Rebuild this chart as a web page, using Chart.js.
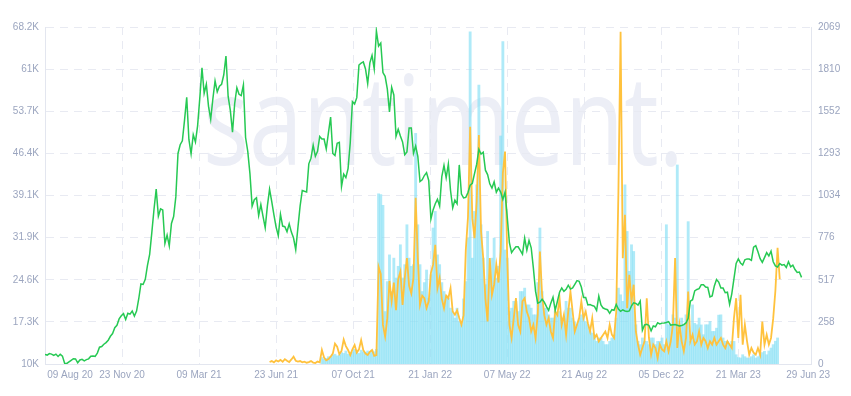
<!DOCTYPE html>
<html>
<head>
<meta charset="utf-8">
<script src="https://cdn.jsdelivr.net/npm/chart.js@4.4.0/dist/chart.umd.min.js"></script>
<style>
  html, body { margin: 0; padding: 0; background: #fff; }
  #wrap { width: 851px; height: 396px; }
</style>
</head>
<body>
<div id="wrap"><canvas id="chart" width="851" height="396"></canvas></div>
<script>
// series sampled every 3 days
var STEP = 3;
var FIRST_DAY = '2020-08-09';

// green line, price in thousands (left axis)
var priceStart = '2020-08-09';
var priceK = [
  11.68, 11.58, 11.85, 11.75, 11.52, 11.75, 11.33, 11.71, 11.40, 10.17,
  10.13, 10.40, 10.68, 10.95, 10.92, 10.25, 10.73, 10.84, 10.58, 10.79,
  10.93, 11.38, 11.43, 11.36, 11.92, 12.94, 13.06, 13.46, 13.74, 14.15,
  14.83, 15.30, 16.32, 16.72, 17.82, 18.37, 18.73, 17.72, 18.80, 18.65,
  19.19, 18.32, 19.17, 21.31, 23.86, 23.78, 24.66, 27.08, 28.99, 32.78,
  36.77, 40.25, 35.57, 36.82, 36.63, 30.83, 32.29, 30.43, 34.32, 35.51,
  38.90, 46.40, 47.91, 48.58, 52.15, 56.10, 48.82, 46.34, 49.63, 48.38,
  51.21, 55.96, 61.20, 56.80, 58.35, 54.53, 52.31, 55.85, 58.92, 57.06,
  58.02, 58.35, 59.99, 63.22, 56.25, 53.83, 50.09, 55.03, 57.75, 56.62,
  56.40, 58.23, 49.15, 46.76, 42.91, 37.30, 38.40, 38.74, 35.68, 37.57,
  35.52, 33.56, 37.34, 40.22, 38.10, 35.79, 33.68, 32.19, 35.91, 33.86,
  33.75, 32.88, 34.24, 32.82, 31.80, 29.79, 33.60, 37.30, 40.01, 39.87,
  39.75, 44.61, 45.59, 47.82, 45.90, 46.77, 49.32, 48.90, 48.90, 47.17,
  49.94, 52.70, 46.40, 46.06, 48.15, 48.31, 40.69, 42.84, 42.23, 43.79,
  48.23, 55.36, 54.94, 56.04, 61.67, 61.99, 62.21, 61.00, 58.48, 62.04,
  63.33, 61.00, 67.55, 64.95, 65.47, 60.37, 59.72, 57.54, 53.57, 57.81,
  56.51, 49.37, 50.58, 49.40, 48.38, 46.20, 46.68, 50.81, 50.81, 46.44,
  47.69, 45.90, 41.56, 41.86, 42.59, 43.10, 41.74, 35.07, 36.65, 37.71,
  38.48, 37.30, 42.41, 44.35, 42.20, 44.58, 40.00, 37.02, 38.33, 37.71,
  44.42, 39.40, 38.73, 38.81, 39.67, 40.92, 41.25, 42.91, 44.54, 47.12,
  46.31, 46.62, 43.51, 42.75, 41.15, 40.42, 41.50, 39.71, 40.43, 39.74,
  38.47, 39.70, 35.47, 30.98, 29.28, 29.83, 30.30, 30.29, 29.65, 29.01,
  31.79, 29.70, 31.37, 30.11, 26.59, 22.58, 20.55, 20.71, 21.23, 20.73,
  19.94, 19.30, 20.55, 21.59, 19.33, 20.84, 22.43, 23.17, 22.58, 22.95,
  23.64, 22.98, 23.18, 23.81, 24.44, 24.31, 23.34, 21.53, 21.53, 20.24,
  20.30, 20.13, 19.99, 19.29, 21.77, 20.23, 19.70, 19.54, 19.41, 18.80,
  19.42, 19.31, 20.34, 19.53, 19.13, 19.38, 19.19, 19.12, 19.20, 20.09,
  20.60, 20.50, 20.20, 20.90, 15.88, 16.79, 16.90, 16.70, 15.78, 16.60,
  16.46, 17.17, 16.97, 17.10, 17.13, 17.21, 17.36, 16.76, 16.82, 16.84,
  16.72, 16.60, 16.68, 16.83, 17.13, 17.94, 20.88, 21.14, 22.67, 22.92,
  23.05, 23.74, 23.73, 23.33, 23.25, 21.63, 21.79, 23.52, 24.64, 24.19,
  23.16, 23.15, 22.35, 22.43, 20.36, 22.16, 24.77, 27.42, 28.18, 27.49,
  27.14, 28.03, 28.19, 28.17, 27.95, 30.22, 30.48, 29.43, 28.24, 27.59,
  28.42, 29.27, 28.69, 29.54, 27.70, 26.99, 26.80, 27.40, 27.12, 27.22,
  26.72, 27.70, 26.82, 27.12, 26.35, 25.85, 25.93, 25.00
];

// orange line (right axis)
var orangeStart = '2021-06-14';
var orangeVals = [
  12, 18, 10, 22, 15, 25, 14, 30, 20, 12,
  28, 45, 20, 15, 18, 10, 14, 8, 12, 18,
  9, 6, 15, 10, 86, 40, 22, 30, 45, 64,
  125, 106, 60, 80, 150, 110, 86, 55, 90, 117,
  70, 90, 147, 85, 64, 55, 75, 86, 50, 55,
  597, 553, 240, 168, 280, 510, 387, 500, 330, 520,
  567, 363, 528, 650, 480, 433, 528, 1021, 650, 363,
  420, 404, 343, 385, 560, 610, 732, 466, 528, 400,
  343, 420, 404, 466, 322, 302, 330, 282, 241, 300,
  700, 900, 1457, 894, 773, 1000, 1406, 814, 650, 400,
  261, 650, 425, 487, 610, 500, 691, 1173, 1304, 650,
  241, 160, 282, 404, 241, 200, 385, 404, 320, 282,
  200, 241, 160, 302, 691, 425, 300, 241, 282, 200,
  160, 322, 300, 404, 241, 302, 180, 322, 445, 322,
  200, 241, 282, 385, 282, 322, 250, 200, 282, 160,
  180, 139, 160, 180, 200, 160, 241, 180, 160, 322,
  1059, 2040, 650, 916, 343, 548, 385, 487, 200, 119,
  57, 100, 139, 404, 160, 57, 119, 98, 37, 119,
  90, 78, 139, 78, 139, 241, 650, 98, 241, 139,
  78, 160, 445, 139, 180, 119, 139, 200, 119, 160,
  140, 98, 139, 119, 160, 119, 140, 160, 119, 98,
  139, 119, 98, 282, 404, 160, 425, 119, 241, 139,
  57, 98, 70, 57, 98, 57, 261, 119, 180, 119,
  160, 280, 450, 713, 520
];

// light blue bars (right axis)
var barStart = '2021-08-25';
var barVals = [
  40, 30, 35, 45, 40, 55, 60, 50, 55, 70,
  65, 80, 60, 70, 75, 90, 70, 65, 85, 75,
  70, 80, 70, 85, 75, 90, 1045, 1040, 974, 322,
  506, 670, 445, 650, 528, 600, 732, 528, 610, 855,
  650, 600, 610, 1416, 855, 610, 445, 500, 577, 404,
  548, 835, 937, 670, 610, 500, 445, 420, 404, 343,
  320, 282, 343, 260, 241, 400, 506, 773, 2040, 650,
  937, 1100, 1713, 855, 650, 487, 814, 548, 650, 773,
  528, 600, 1400, 1979, 700, 650, 322, 343, 385, 385,
  322, 445, 445, 466, 363, 363, 343, 302, 302, 500,
  835, 445, 343, 343, 302, 282, 282, 322, 302, 322,
  282, 282, 385, 343, 343, 282, 260, 241, 282, 302,
  302, 260, 241, 200, 190, 180, 139, 160, 160, 139,
  119, 119, 139, 160, 180, 282, 466, 425, 385, 1100,
  814, 569, 732, 691, 241, 139, 119, 160, 139, 139,
  119, 160, 160, 119, 139, 139, 160, 119, 855, 241,
  241, 302, 282, 1222, 241, 282, 241, 302, 874, 139,
  363, 250, 241, 282, 240, 180, 241, 241, 261, 200,
  200, 220, 300, 302, 160, 139, 139, 119, 139, 139,
  57, 40, 37, 57, 45, 37, 37, 45, 57, 37,
  45, 57, 70, 78, 57, 80, 98, 119, 140, 160
];

var xTickDates = ['2020-08-09', '2020-11-23', '2021-03-09', '2021-06-23', '2021-10-07', '2022-01-21',
  '2022-05-07', '2022-08-21', '2022-12-05', '2023-03-21', '2023-06-29'];
var xTickLabels = ['09 Aug 20', '23 Nov 20', '09 Mar 21', '23 Jun 21', '07 Oct 21', '21 Jan 22',
  '07 May 22', '21 Aug 22', '05 Dec 22', '21 Mar 23', '29 Jun 23'];
var leftTicks = ['10K', '17.3K', '24.6K', '31.9K', '39.1K', '46.4K', '53.7K', '61K', '68.2K'];
var rightTicks = ['0', '258', '517', '776', '1034', '1293', '1552', '1810', '2069'];
var WATERMARK = 'santiment.';

var LEFT_MIN = 10.04, LEFT_MAX = 68.24;
var RIGHT_MIN = 0, RIGHT_MAX = 2069;

function dayOf(iso) {
  return Math.round((Date.parse(iso) - Date.parse(FIRST_DAY)) / 86400000);
}
function toPoints(vals, start) {
  var d0 = dayOf(start);
  return vals.map(function(v, i) { return {x: d0 + i * STEP, y: v}; });
}
function evenTicks(min, max, n) {
  var out = [];
  for (var k = 0; k < n; k++) out.push({value: min + (max - min) * k / (n - 1)});
  return out;
}

var tickColor = '#9ba5bf';
var gridColor = '#e8eaf2';
var font = {family: '"Liberation Sans", Arial, sans-serif', size: 10};

var watermark = {
  id: 'watermark',
  beforeDraw: function(chart) {
    var ctx = chart.ctx;
    ctx.save();
    ctx.font = '125px "Open Sans"';
    ctx.fillStyle = '#eceef6';
    ctx.textBaseline = 'alphabetic';
    var w = ctx.measureText(WATERMARK).width;
    ctx.translate(203, 165);
    ctx.scale(481 / w, 1);
    ctx.fillText(WATERMARK, 0, 0);
    ctx.restore();
  }
};

var ctx = document.getElementById('chart').getContext('2d');
new Chart(ctx, {
  data: {
    datasets: [{
      type: 'line',
      data: toPoints(priceK, priceStart),
      yAxisID: 'y',
      borderColor: '#26c953',
      borderWidth: 1.5,
      pointRadius: 0,
      tension: 0,
      order: 0
    }, {
      type: 'line',
      data: toPoints(orangeVals, orangeStart),
      yAxisID: 'y2',
      borderColor: '#ffc23d',
      borderWidth: 1.8,
      pointRadius: 0,
      tension: 0,
      order: 1
    }, {
      type: 'bar',
      data: toPoints(barVals, barStart),
      yAxisID: 'y2',
      backgroundColor: 'rgba(132,222,244,0.65)',
      barPercentage: 1,
      categoryPercentage: 1,
      order: 2
    }]
  },
  options: {
    responsive: false,
    animation: false,
    devicePixelRatio: 1,
    layout: {padding: {top: 27, left: 0, right: 0, bottom: 0}},
    plugins: {legend: {display: false}, tooltip: {enabled: false}},
    scales: {
      x: {
        type: 'linear',
        offset: false,
        min: 0,
        max: dayOf(xTickDates[xTickDates.length - 1]),
        afterBuildTicks: function(s) {
          s.ticks = xTickDates.map(function(d) { return {value: dayOf(d)}; });
        },
        afterFit: function(s) {
          s.height = 32;
          s.paddingLeft = 0;
          s.paddingRight = 0;
        },
        ticks: {
          autoSkip: false,
          maxRotation: 0,
          color: tickColor,
          font: font,
          padding: 5,
          callback: function(v, i) {
            if (i === 0) return '                  ' + xTickLabels[i];
            if (i === xTickLabels.length - 1) return xTickLabels[i] + '  ';
            return xTickLabels[i];
          }
        },
        grid: {
          offset: false,
          drawTicks: false,
          color: function(c) {
            return (c.index === 0 || c.index === xTickDates.length - 1) ? 'rgba(0,0,0,0)' : gridColor;
          }
        },
        border: {display: true, color: '#e3e6ef', dash: [8, 6]}
      },
      y: {
        position: 'left',
        min: LEFT_MIN,
        max: LEFT_MAX,
        afterBuildTicks: function(s) { s.ticks = evenTicks(LEFT_MIN, LEFT_MAX, leftTicks.length); },
        afterFit: function(s) { s.width = 45; s.paddingTop = 0; s.paddingBottom = 0; },
        ticks: {
          color: tickColor,
          font: font,
          padding: 6,
          callback: function(v, i) { return leftTicks[i]; }
        },
        grid: {drawTicks: false, color: gridColor},
        border: {display: true, color: '#e3e6ef', dash: [8, 6]}
      },
      y2: {
        position: 'right',
        min: RIGHT_MIN,
        max: RIGHT_MAX,
        afterBuildTicks: function(s) { s.ticks = evenTicks(RIGHT_MIN, RIGHT_MAX, rightTicks.length); },
        afterFit: function(s) { s.width = 40; s.paddingTop = 0; s.paddingBottom = 0; },
        ticks: {
          color: tickColor,
          font: font,
          padding: 7,
          callback: function(v, i) { return rightTicks[i]; }
        },
        grid: {display: false, drawTicks: false},
        border: {display: true, color: '#e3e6ef'}
      }
    }
  },
  plugins: [watermark]
});
</script>
</body>
</html>
